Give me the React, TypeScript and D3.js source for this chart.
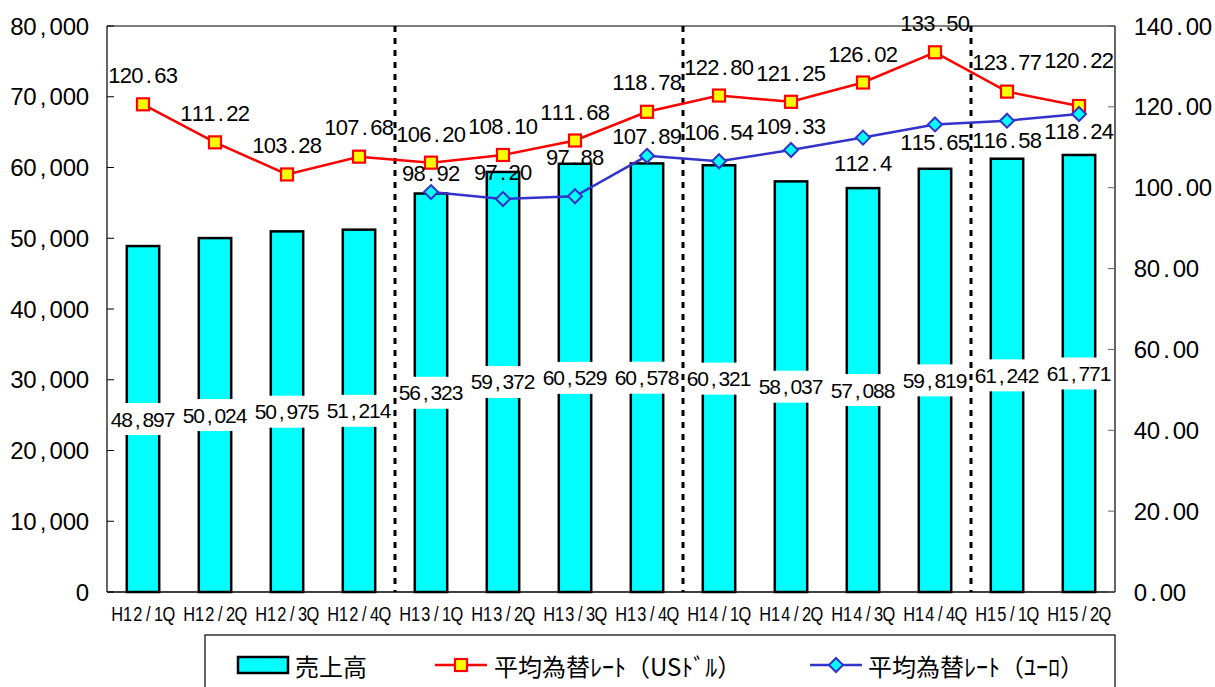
import React from "react";
import * as d3 from "d3";

const categories = ["H12/1Q","H12/2Q","H12/3Q","H12/4Q","H13/1Q","H13/2Q","H13/3Q","H13/4Q","H14/1Q","H14/2Q","H14/3Q","H14/4Q","H15/1Q","H15/2Q"];
const sales = [48897,50024,50975,51214,56323,59372,60529,60578,60321,58037,57088,59819,61242,61771];
const usdRate = [120.63,111.22,103.28,107.68,106.20,108.10,111.68,118.78,122.80,121.25,126.02,133.50,123.77,120.22];
const usdLabels = ["120.63","111.22","103.28","107.68","106.20","108.10","111.68","118.78","122.80","121.25","126.02","133.50","123.77","120.22"];
const euroRate: (number | null)[] = [null,null,null,null,98.92,97.20,97.88,107.89,106.54,109.33,112.4,115.65,116.58,118.24];
const euroLabels = ["","","","","98.92","97.20","97.88","107.89","106.54","109.33","112.4","115.65","116.58","118.24"];
const leftTicks = [0,10000,20000,30000,40000,50000,60000,70000,80000];
const rightTicks = [0,20,40,60,80,100,120,140];
const yearDividers = [4,8,12];
const legendLabels = ["売上高","平均為替ﾚｰﾄ（USﾄﾞﾙ）","平均為替ﾚｰﾄ（ﾕｰﾛ）"];

// label offsets (style, pixels relative to the marker)
const usdLabelDy = [-29,-29,-29,-29,-28,-28,-28,-29,-28,-28,-28,-29,-29,-45];
const euroLabelDy = [0,0,0,0,-19,-27,-39,-19,-29,-23,26,18,20,18];

const W = 1215, H = 687;
const L = 107, R = 1115, T = 26, B = 592;
const NUM = "'Liberation Sans', Arial, sans-serif";
const CJK = "'Noto Sans CJK JP', sans-serif";

// fixed-cell (half-width gothic style) text: every character centred in its own cell
function Mono(props: { x: number; y: number; s: string; size: number; cw: number; anchor?: "start" | "middle" | "end" }) {
  const { x, y, s, size, cw, anchor = "middle" } = props;
  const total = s.length * cw;
  const x0 = anchor === "middle" ? x - total / 2 : anchor === "end" ? x - total : x;
  const xs = s.split("").map((_, k) => (x0 + k * cw + cw / 2).toFixed(2)).join(" ");
  return (
    <text x={xs} y={y} textAnchor="middle" dominantBaseline="central" fontFamily={NUM} fontSize={size} fill="#000">
      {s}
    </text>
  );
}

export default function App() {
  const x = d3.scaleBand<string>().domain(categories).range([L, R]).padding(0);
  const yL = d3.scaleLinear().domain([0, 80000]).range([B, T]);
  const yR = d3.scaleLinear().domain([0, 140]).range([B, T]);
  const bw = x.bandwidth() * 0.45;
  const cx = (i: number) => (x(categories[i]) as number) + x.bandwidth() / 2;
  const fmtK = d3.format(",");
  const fmt2 = d3.format(".2f");

  const usdLine = d3.line<number>().x((_, i) => cx(i)).y((d) => yR(d))(usdRate) as string;
  const euroPts = euroRate.map((v, i) => ({ v, i })).filter((p) => p.v !== null) as { v: number; i: number }[];
  const euroLine = d3.line<{ v: number; i: number }>().x((p) => cx(p.i)).y((p) => yR(p.v))(euroPts) as string;

  const diamond = (px: number, py: number, r: number) =>
    `M${px},${py - r}L${px + r},${py}L${px},${py + r}L${px - r},${py}Z`;

  return (
    <svg width={W} height={H} style={{ position: "absolute", left: 0, top: 0, background: "#fff" }}>
      <rect x={0} y={0} width={W} height={H} fill="#fff" />
      {/* bars */}
      {sales.map((v, i) => (
        <rect key={"b" + i} x={cx(i) - bw / 2} y={yL(v)} width={bw} height={B - yL(v)}
          fill="#00FFFF" stroke="#000" strokeWidth={2.5} />
      ))}
      {/* plot border */}
      <line x1={L} y1={T} x2={R} y2={T} stroke="#000" strokeWidth={1.2} />
      <line x1={L} y1={T} x2={L} y2={B} stroke="#000" strokeWidth={1.2} />
      <line x1={R} y1={T} x2={R} y2={B} stroke="#000" strokeWidth={1.2} />
      <line x1={L} y1={B} x2={R} y2={B} stroke="#000" strokeWidth={1.5} />
      {/* ticks */}
      {leftTicks.map((t) => (
        <g key={"lt" + t}>
          <line x1={L} x2={L + 7} y1={yL(t)} y2={yL(t)} stroke="#000" />
          <Mono x={89} y={yL(t)} s={fmtK(t)} size={24} cw={13.1} anchor="end" />
        </g>
      ))}
      {rightTicks.map((t) => (
        <g key={"rt" + t}>
          <line x1={R - 7} x2={R} y1={yR(t)} y2={yR(t)} stroke="#666" />
          <Mono x={1134} y={yR(t)} s={fmt2(t)} size={24} cw={13} anchor="start" />
        </g>
      ))}
      {/* x labels (narrow half-width style) */}
      {categories.map((c, i) => (
        <g key={"xl" + i} transform={`translate(${cx(i)},614) scale(0.78,1)`}>
          <Mono x={0} y={0} s={c} size={21} cw={13.3} />
        </g>
      ))}
      {/* year dividers */}
      {yearDividers.map((k) => {
        const xv = x(categories[k]) as number;
        return <line key={"d" + k} x1={xv} x2={xv} y1={T} y2={B} stroke="#000" strokeWidth={3} strokeDasharray="6,6" />;
      })}
      {/* bar labels */}
      {sales.map((v, i) => {
        const my = (yL(v) + B) / 2;
        return (
          <g key={"bl" + i}>
            <rect x={cx(i) - 34} y={my - 16} width={68} height={32} fill="#fff" />
            <Mono x={cx(i)} y={my} s={fmtK(v)} size={21} cw={10.6} />
          </g>
        );
      })}
      {/* lines */}
      <path d={usdLine} fill="none" stroke="#FF0000" strokeWidth={2.5} />
      <path d={euroLine} fill="none" stroke="#3333CC" strokeWidth={2.5} />
      {usdRate.map((v, i) => (
        <rect key={"um" + i} x={cx(i) - 6} y={yR(v) - 6} width={12} height={12} fill="#FFFF00" stroke="#FF0000" strokeWidth={2.2} />
      ))}
      {euroPts.map((p) => (
        <path key={"em" + p.i} d={diamond(cx(p.i), yR(p.v), 7)} fill="#00FFFF" stroke="#3333CC" strokeWidth={2} />
      ))}
      {/* line labels */}
      {usdRate.map((v, i) => (
        <Mono key={"ul" + i} x={cx(i)} y={yR(v) + usdLabelDy[i]} s={usdLabels[i]} size={22} cw={11.5} />
      ))}
      {euroPts.map((p) => (
        <Mono key={"el" + p.i} x={cx(p.i)} y={yR(p.v) + euroLabelDy[p.i]} s={euroLabels[p.i]} size={22} cw={11.5} />
      ))}
      {/* legend */}
      <rect x={205} y={635} width={910} height={80} fill="#fff" stroke="#000" strokeWidth={1.2} />
      <rect x={238} y={657} width={50} height={16} fill="#00FFFF" stroke="#000" strokeWidth={2.5} />
      <text x={295} y={665} dominantBaseline="central" fontFamily={CJK} fontSize={24} fill="#000">{legendLabels[0]}</text>
      <line x1={435} x2={487} y1={665} y2={665} stroke="#FF0000" strokeWidth={2.5} />
      <rect x={455} y={659} width={12} height={12} fill="#FFFF00" stroke="#FF0000" strokeWidth={2.2} />
      <text x={494} y={665} dominantBaseline="central" fontFamily={CJK} fontSize={24} fill="#000">{legendLabels[1]}</text>
      <line x1={810} x2={862} y1={665} y2={665} stroke="#3333CC" strokeWidth={2.5} />
      <path d={diamond(836, 665, 7)} fill="#00FFFF" stroke="#3333CC" strokeWidth={2} />
      <text x={868} y={665} dominantBaseline="central" fontFamily={CJK} fontSize={24} fill="#000">{legendLabels[2]}</text>
    </svg>
  );
}
